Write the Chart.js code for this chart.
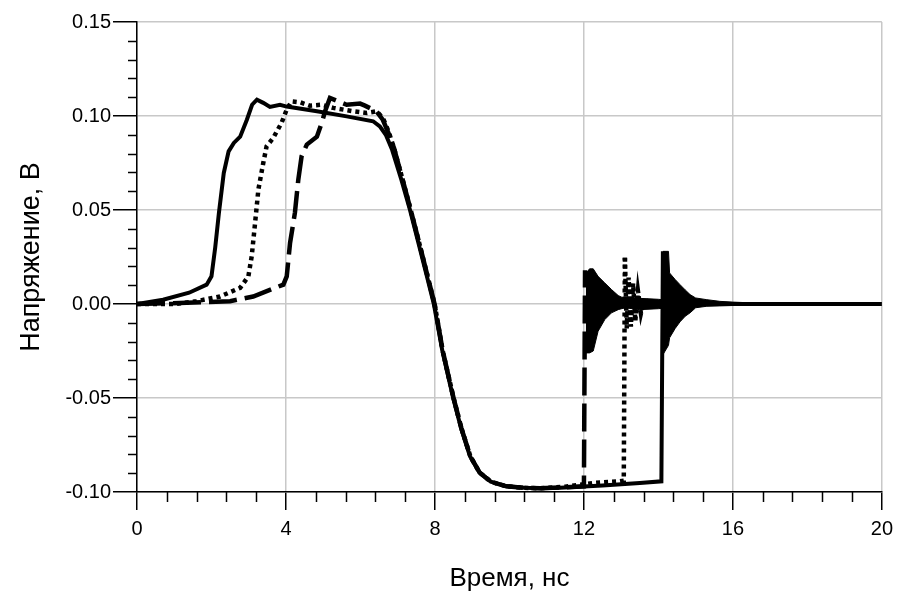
<!DOCTYPE html>
<html>
<head>
<meta charset="utf-8">
<script src="https://cdn.jsdelivr.net/npm/chart.js@4.4.1/dist/chart.umd.min.js"></script>
<style>
html,body{margin:0;padding:0;background:#fff;}
#wrap{width:900px;height:595px;}
</style>
</head>
<body>
<div id="wrap"><canvas id="c" width="900" height="595"></canvas></div>
<script>
var solidT = [0,0.7,1.4,1.87,2.0,2.1,2.2,2.33,2.46,2.6,2.77,2.95,3.09,3.22,3.39,3.57,3.84,4.02,4.83,5.63,6.34,6.52,6.68,6.85,7.1,7.33,7.55,7.78,7.97,8.2,8.49,8.7,8.94,9.2,9.5,9.92,10.4,10.82,11.36,12.5,13.5,14.08,14.12];
var solidV = [0,0.0023,0.006,0.0103,0.0147,0.03,0.0485,0.0697,0.0812,0.0857,0.089,0.098,0.106,0.1087,0.107,0.1048,0.106,0.105,0.1025,0.0998,0.0972,0.0945,0.09,0.082,0.066,0.05,0.033,0.015,0,-0.025,-0.05,-0.066,-0.081,-0.0897,-0.0945,-0.097,-0.0978,-0.098,-0.0978,-0.0965,-0.0952,-0.0943,0.028];

var dotT = [0,1.0,1.6,2.23,2.77,2.99,3.08,3.17,3.26,3.39,3.48,3.66,3.88,4.02,4.15,4.38,4.64,4.96,5.27,5.81,6.17,6.43,6.6,6.75,6.9,7.12,7.35,7.57,7.8,7.99,8.21,8.5,8.71,8.95,9.2,9.5,9.92,10.4,10.82,11.5,12.25,12.97,13.07,13.1];
var dotV = [0,0,0.0015,0.004,0.0086,0.0147,0.0254,0.043,0.061,0.075,0.0839,0.0884,0.0963,0.1034,0.1078,0.1073,0.1055,0.106,0.1043,0.1025,0.1016,0.1025,0.099,0.092,0.083,0.067,0.05,0.033,0.015,0,-0.025,-0.05,-0.066,-0.081,-0.0897,-0.0945,-0.097,-0.0978,-0.098,-0.0972,-0.0952,-0.0943,-0.094,0.0246];

var dashT = [0,1.33,2.5,3.12,3.93,4.02,4.11,4.24,4.33,4.42,4.56,4.83,4.96,5.05,5.18,5.4,5.63,5.99,6.12,6.43,6.6,6.75,6.9,7.12,7.35,7.57,7.8,7.99,8.21,8.5,8.71,8.95,9.2,9.5,9.92,10.4,10.82,11.5,12.0,12.03];
var dashV = [0,0.0006,0.0015,0.004,0.0103,0.0147,0.0325,0.0485,0.066,0.0786,0.0848,0.089,0.0963,0.1025,0.1096,0.1078,0.106,0.1066,0.1055,0.1025,0.098,0.091,0.083,0.067,0.05,0.033,0.015,0,-0.025,-0.05,-0.066,-0.081,-0.0897,-0.0945,-0.097,-0.0978,-0.098,-0.0975,-0.097,0.018];

// затухающие колебания: огибающие (верх/низ)
var dashRingT  = [12.05,12.15,12.25,12.38,12.56,12.74,12.92,13.1,13.5,14.0,14.5,15.0,15.5];
var dashRingHi = [0.016,0.0187,0.0187,0.0147,0.0112,0.0077,0.0045,0.0028,0.003,0.0025,0.0015,0.001,0.0008];
var dashRingLo = [-0.026,-0.026,-0.025,-0.0145,-0.0083,-0.0047,-0.003,-0.002,-0.003,-0.0025,-0.0015,-0.001,-0.0008];

var solidRingT  = [14.12,14.27,14.3,14.45,14.58,14.72,14.85,15.0,15.3,15.65,16.0,16.5];
var solidRingHi = [0.028,0.028,0.0165,0.013,0.0103,0.0075,0.005,0.0032,0.0023,0.0014,0.001,0.0006];
var solidRingLo = [-0.027,-0.022,-0.018,-0.013,-0.0095,-0.0065,-0.0047,-0.002,-0.0012,-0.001,-0.0008,-0.0006];

var dotRingT = [13.1,13.15,13.2,13.26,13.32,13.38,13.45,13.53,13.62,13.75];
var dotRingV = [0.0246,-0.013,0.014,-0.012,0.011,-0.009,0.007,-0.005,0.003,0];

var tailT = [15.5,20];
var tailV = [0,0];

var xTicks = [0,4,8,12,16,20];
var yTicks = [-0.10,-0.05,0.00,0.05,0.10,0.15];

function pts(ts, vs){ return ts.map(function(t,i){ return {x:t, y:vs[i]}; }); }

var FONT = '"Liberation Sans", Arial, sans-serif';

// второстепенные деления осей
var minorTicks = {
  id:'minorTicks',
  afterDraw: function(chart){
    var ctx = chart.ctx, xs = chart.scales.x, ys = chart.scales.y;
    var a = chart.chartArea;
    ctx.save();
    ctx.strokeStyle = '#000'; ctx.lineWidth = 1.5;
    ctx.beginPath();
    for(var i=0;i<=25;i++){
      if(i%5===0) continue;
      var py = Math.round(ys.getPixelForValue(-0.1 + i*0.01)) + 0.5;
      ctx.moveTo(a.left - 9, py); ctx.lineTo(a.left, py);
      var px = Math.round(xs.getPixelForValue(i*0.8)) + 0.5;
      ctx.moveTo(px, a.bottom); ctx.lineTo(px, a.bottom + 10);
    }
    ctx.stroke();
    ctx.restore();
  }
};

function line(data, opts){
  var d = {data:data, borderColor:'#000', backgroundColor:'#000', borderWidth:4.5,
    pointRadius:0, fill:false, tension:0, borderCapStyle:'butt', borderJoinStyle:'miter'};
  for(var k in opts) d[k] = opts[k];
  return d;
}

new Chart(document.getElementById('c'), {
  type:'line',
  data:{ datasets:[
    line(pts(solidT, solidV), {borderWidth:4}),
    line(pts(dotT, dotV), {borderDash:[4,4]}),
    line(pts(dashT, dashV), {borderDash:[28,8]}),
    line(pts(dashRingT, dashRingHi), {borderWidth:1}),
    line(pts(dashRingT, dashRingLo), {borderWidth:1, fill:'-1'}),
    line(pts(solidRingT, solidRingHi), {borderWidth:1}),
    line(pts(solidRingT, solidRingLo), {borderWidth:1, fill:'-1'}),
    line(pts(dotRingT, dotRingV), {borderDash:[4,3]}),
    line(pts(tailT, tailV), {borderWidth:4})
  ]},
  options:{
    responsive:false, animation:false, devicePixelRatio:1,
    layout:{ padding:{left:0, right:18, top:22, bottom:0} },
    plugins:{ legend:{display:false}, tooltip:{enabled:false} },
    scales:{
      x:{
        type:'linear', min:0, max:20,
        afterFit:function(s){ s.height = 103; },
        afterBuildTicks:function(s){ s.ticks = xTicks.map(function(v){ return {value:v}; }); },
        grid:{ color:'#c8c8c8', lineWidth:1.5, tickColor:'#000', tickLength:18, tickWidth:1.5 },
        border:{ color:'#000', width:1.5 },
        ticks:{ color:'#000', font:{family:FONT, size:20}, padding:7, maxRotation:0,
          callback:function(v){ return String(v); } },
        title:{ display:true, text:'Время, нс', color:'#000', font:{family:FONT, size:26}, padding:{top:0,bottom:1} }
      },
      y:{
        type:'linear', min:-0.1, max:0.15,
        afterFit:function(s){ s.width = 137; },
        afterBuildTicks:function(s){ s.ticks = yTicks.map(function(v){ return {value:v}; }); },
        grid:{ color:'#c8c8c8', lineWidth:1.5, tickColor:'#000', tickLength:24, tickWidth:1.5 },
        border:{ color:'#000', width:1.5 },
        ticks:{ color:'#000', font:{family:FONT, size:20}, padding:2,
          callback:function(v){ return Math.abs(v) < 1e-9 ? '0.00' : v.toFixed(2); } },
        title:{ display:true, text:'Напряжение, В', color:'#000', font:{family:FONT, size:27}, padding:{top:15,bottom:0} }
      }
    }
  },
  plugins:[minorTicks]
});
</script>
</body>
</html>
